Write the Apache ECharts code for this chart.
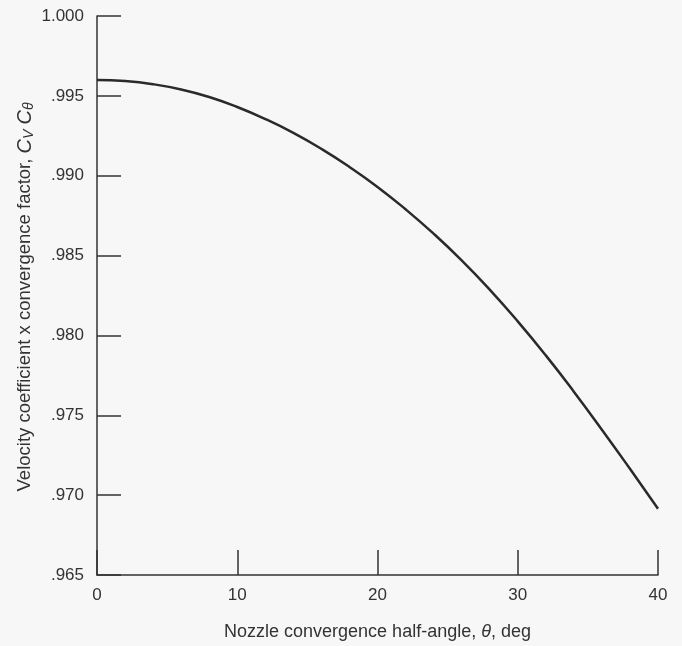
<!DOCTYPE html>
<html>
<head>
<meta charset="utf-8">
<script src="https://cdn.jsdelivr.net/npm/echarts@6/dist/echarts.min.js"></script>
<style>
html,body{margin:0;padding:0;background:#f7f7f7;}
#chart{width:682px;height:646px;}
</style>
</head>
<body>
<div id="chart"></div>
<script>
// Nozzle convergence half-angle, deg
var angles = [0, 2, 4, 6, 8, 10, 12, 14, 16, 18, 20, 22, 24, 26, 28, 30, 32, 34, 36, 38, 40];
// Velocity coefficient x convergence factor, Cv*Ctheta
var cvctheta = [0.99600, 0.99593, 0.99573, 0.99540, 0.99493, 0.99430, 0.99355, 0.99268, 0.99168, 0.99055, 0.98930, 0.98790, 0.98637, 0.98470, 0.98287, 0.98088, 0.97875, 0.97648, 0.97410, 0.97165, 0.96915];
var xTicks = [0, 10, 20, 30, 40];
var yTicks = [0.965, 0.970, 0.975, 0.980, 0.985, 0.990, 0.995, 1.000];

var chart = echarts.init(document.getElementById('chart'));
var font = '"Liberation Sans", Arial, Helvetica, sans-serif';
var ink = '#333';
chart.setOption({
  backgroundColor: '#f7f7f7',
  animation: false,
  grid: {left: 97, right: 24, top: 16, bottom: 66, containLabel: false},
  xAxis: {
    type: 'value', min: 0, max: 40, interval: 10,
    axisLine: {show: true, lineStyle: {color: ink, width: 1.5}},
    axisTick: {show: true, inside: true, length: 25, lineStyle: {color: ink, width: 1.5}},
    splitLine: {show: false},
    axisLabel: {color: ink, fontFamily: font, fontSize: 17, margin: 12,
      formatter: function (v) { return xTicks.indexOf(v) >= 0 ? String(v) : ''; }},
    name: '{n|Nozzle convergence half-angle, }{i|θ}{n|, deg}',
    nameLocation: 'middle', nameGap: 48,
    nameTextStyle: {rich: {
      n: {fontFamily: font, fontSize: 18, color: ink},
      i: {fontFamily: font, fontSize: 18, color: ink, fontStyle: 'italic'}
    }}
  },
  yAxis: {
    type: 'value', min: 0.965, max: 1.000, interval: 0.005,
    axisLine: {show: true, lineStyle: {color: ink, width: 1.5}},
    axisTick: {show: true, inside: true, length: 24, lineStyle: {color: ink, width: 1.5}},
    splitLine: {show: false},
    axisLabel: {color: ink, fontFamily: font, fontSize: 17, margin: 13,
      formatter: function (v) {
        var r = Math.round(v * 1000) / 1000;
        if (yTicks.indexOf(r) < 0) return '';
        if (r >= 1) return '1.000';
        return r.toFixed(3).replace(/^0/, '');
      }}
  },
  graphic: [{
    type: 'text',
    x: 25, y: 297,
    rotation: Math.PI / 2,
    style: {
      text: '{n|Velocity coefficient x convergence factor, }{c|C}{s|V}{n| }{c|C}{s|θ}',
      align: 'center', verticalAlign: 'middle',
      rich: {
        n: {fontFamily: font, fontSize: 18.5, fill: ink},
        c: {fontFamily: font, fontSize: 20, fill: ink, fontStyle: 'italic'},
        s: {fontFamily: font, fontSize: 14, fill: ink, fontStyle: 'italic', verticalAlign: 'bottom', padding: [9, 0, 0, 0]}
      }
    }
  }],
  series: [{
    type: 'line',
    data: angles.map(function (a, i) { return [a, cvctheta[i]]; }),
    smooth: true,
    showSymbol: false,
    lineStyle: {color: '#2a2a2a', width: 2.5}
  }]
});
</script>
</body>
</html>
